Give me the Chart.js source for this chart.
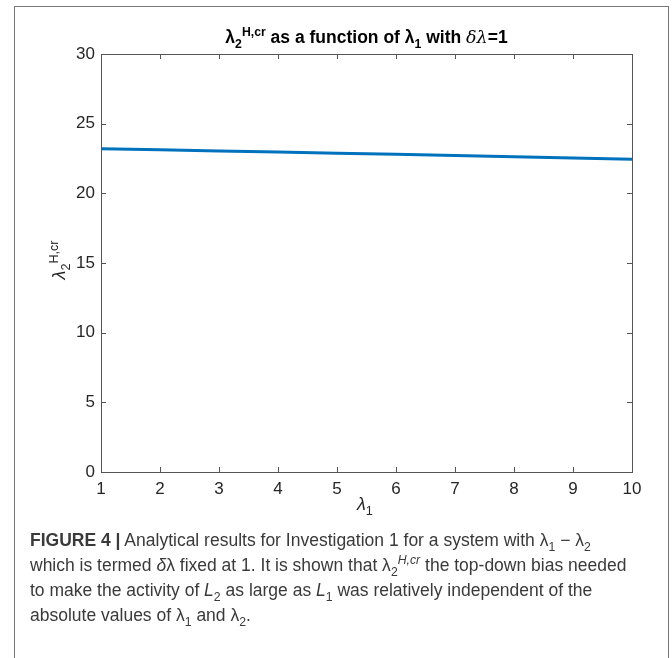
<!DOCTYPE html>
<html lang="en">
<head>
<meta charset="UTF-8">
<title>lambda2 H,cr vs lambda1</title>
<script src="https://cdn.jsdelivr.net/npm/chart.js"></script>
<style>
    body { margin: 0; background: #fff; font-family: "Liberation Sans", Arial, sans-serif; }
    .frame {
        position: absolute; left: 14px; top: 6px; width: 653px; height: 700px;
        border: 1px solid #777; border-bottom: none;
    }
    .wrap { position: absolute; left: 0; top: 0; width: 672px; height: 530px; }
    .title {
        position: absolute; left: 101px; width: 531px; top: 27px; text-align: center;
        font-weight: bold; font-size: 17.5px; color: #000; line-height: 20px;
    }
    .xlabel { position: absolute; left: 357px; top: 494px; font-size: 18px; color: #262626; }
    .ylabel {
        position: absolute; left: 29px; top: 250px; font-size: 18px; color: #262626;
        transform: rotate(-90deg); transform-origin: center; width: 60px; text-align: center;
        line-height: 20px;
    }
    sub, sup { font-size: 70%; line-height: 0; }
    .caption {
        position: absolute; left: 30px; top: 528px; width: 640px; white-space: nowrap;
        font-size: 17.5px; line-height: 25px; color: #3a3a3a;
    }
</style>
</head>
<body>
<div class="frame"></div>
<div class="wrap"><canvas id="myChart" width="672" height="530"></canvas></div>
<div class="title">λ<sub>2</sub><sup>H,cr</sup> as a function of λ<sub>1</sub> with <i style="font-family:'DejaVu Serif',serif;font-weight:normal">δλ</i>=1</div>
<div class="ylabel"><i>λ</i><sub>2</sub><sup>H,cr</sup></div>
<div class="xlabel"><i>λ</i><sub>1</sub></div>
<div class="caption"><b>FIGURE 4 |</b> Analytical results for Investigation 1 for a system with λ<sub>1</sub> − λ<sub>2</sub><br>which is termed <i>δ</i>λ fixed at 1. It is shown that λ<sub>2</sub><sup><i>H,cr</i></sup> the top-down bias needed<br>to make the activity of <i>L</i><sub>2</sub> as large as <i>L</i><sub>1</sub> was relatively independent of the<br>absolute values of λ<sub>1</sub> and λ<sub>2</sub>.</div>
<script>
    // данные графика
    const lambda1 = [1, 2, 3, 4, 5, 6, 7, 8, 9, 10];
    const lambda2Hcr = [23.2, 23.12, 23.04, 22.96, 22.88, 22.8, 22.71, 22.62, 22.54, 22.45];
    const xTicks = [1, 2, 3, 4, 5, 6, 7, 8, 9, 10];
    const yTicks = [0, 5, 10, 15, 20, 25, 30];

    const axisColor = '#555';

    // рамка и внутренние засечки как в MATLAB
    const boxPlugin = {
        id: 'box',
        afterDraw(chart) {
            const { ctx, chartArea: a, scales } = chart;
            ctx.save();
            ctx.strokeStyle = axisColor;
            ctx.lineWidth = 1;
            ctx.strokeRect(a.left + 0.5, a.top + 0.5, a.right - a.left, a.bottom - a.top);
            ctx.beginPath();
            xTicks.forEach(v => {
                const px = Math.round(scales.x.getPixelForValue(v)) + 0.5;
                ctx.moveTo(px, a.bottom); ctx.lineTo(px, a.bottom - 5);
                ctx.moveTo(px, a.top); ctx.lineTo(px, a.top + 5);
            });
            yTicks.forEach(v => {
                const py = Math.round(scales.y.getPixelForValue(v)) + 0.5;
                ctx.moveTo(a.left, py); ctx.lineTo(a.left + 5, py);
                ctx.moveTo(a.right, py); ctx.lineTo(a.right - 5, py);
            });
            ctx.stroke();
            ctx.restore();
        }
    };

    const ctx = document.getElementById('myChart').getContext('2d');
    new Chart(ctx, {
        type: 'line',
        data: {
            datasets: [{
                data: lambda1.map((x, i) => ({ x: x, y: lambda2Hcr[i] })),
                borderColor: '#0072BD',
                borderWidth: 3,
                pointRadius: 0,
                tension: 0,
                fill: false
            }]
        },
        options: {
            responsive: false,
            animation: false,
            layout: { padding: { top: 54, right: 40, left: 0, bottom: 0 } },
            plugins: { legend: { display: false }, tooltip: { enabled: false } },
            scales: {
                x: {
                    type: 'linear', min: 1, max: 10,
                    afterBuildTicks: s => { s.ticks = xTicks.map(v => ({ value: v })); },
                    afterFit: s => { s.height = 58; },
                    grid: { display: false, drawTicks: false },
                    border: { display: false },
                    ticks: { color: '#262626', font: { size: 17, family: 'Liberation Sans' }, padding: 7, maxRotation: 0 }
                },
                y: {
                    min: 0, max: 30,
                    afterBuildTicks: s => { s.ticks = yTicks.map(v => ({ value: v })); },
                    afterFit: s => { s.width = 101; },
                    grid: { display: false, drawTicks: false },
                    border: { display: false },
                    ticks: { color: '#262626', font: { size: 17, family: 'Liberation Sans' }, padding: 6 }
                }
            }
        },
        plugins: [boxPlugin]
    });
</script>
</body>
</html>
